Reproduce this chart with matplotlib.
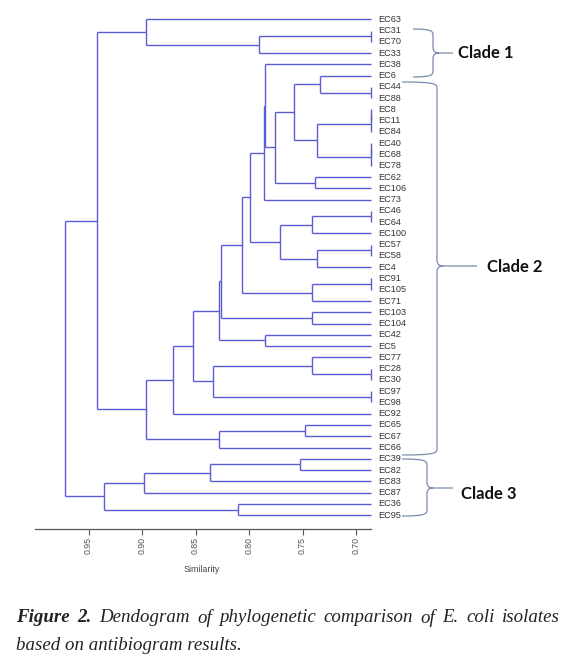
import numpy as np
import matplotlib.pyplot as plt
from matplotlib.path import Path
from matplotlib.patches import PathPatch

# leaf order, top to bottom
leaves = ["EC63", "EC31", "EC70", "EC33", "EC38", "EC6", "EC44", "EC88", "EC8",
          "EC11", "EC84", "EC40", "EC68", "EC78", "EC62", "EC106", "EC73", "EC46",
          "EC64", "EC100", "EC57", "EC58", "EC4", "EC91", "EC105", "EC71", "EC103",
          "EC104", "EC42", "EC5", "EC77", "EC28", "EC30", "EC97", "EC98", "EC92",
          "EC65", "EC67", "EC66", "EC39", "EC82", "EC83", "EC87", "EC36", "EC95"]

# merges (node m<i> is the i-th merge): left child, right child, similarity
merge_a = ["EC31", "m0", "EC63", "EC44", "EC6", "EC8", "m5", "EC40", "m7", "m6",
           "m4", "EC62", "m10", "EC38", "m13", "EC46", "m15", "EC57", "m17", "m16",
           "m14", "EC91", "m21", "m20", "EC103", "m23", "EC42", "m25", "EC28", "EC77",
           "EC97", "m29", "m27", "m32", "EC65", "m34", "m33", "m2", "EC39", "m38",
           "m39", "EC36", "m40", "m37"]
merge_b = ["EC70", "EC33", "m1", "EC88", "m3", "EC11", "EC84", "EC68", "EC78", "m8",
           "m9", "EC106", "m11", "m12", "EC73", "EC64", "EC100", "EC58", "EC4", "m18",
           "m19", "EC105", "EC71", "m22", "EC104", "m24", "EC5", "m26", "EC30", "m28",
           "EC98", "m30", "m31", "EC92", "EC67", "EC66", "m35", "m36", "EC82", "EC83",
           "EC87", "EC95", "m41", "m42"]
merge_h = [0.686, 0.791, 0.896, 0.686, 0.7335, 0.686, 0.686, 0.686, 0.686, 0.736,
           0.7575, 0.738, 0.776, 0.7855, 0.7864, 0.686, 0.7413, 0.686, 0.736, 0.7715,
           0.7995, 0.686, 0.7413, 0.8067, 0.7413, 0.8263, 0.7855, 0.8285, 0.686, 0.7413,
           0.686, 0.8341, 0.8519, 0.8706, 0.748, 0.8279, 0.8964, 0.9421, 0.7522, 0.8363,
           0.898, 0.8107, 0.9353, 0.9724]
leaf_level = 0.686

ticks = [0.95, 0.90, 0.85, 0.80, 0.75, 0.70]
clade_names = ["Clade 1", "Clade 2", "Clade 3"]

W, H = 574, 659
fig = plt.figure(figsize=(W / 100, H / 100), dpi=100)
ax = fig.add_axes([35 / W, 1 - 529 / H, 336 / W, 521 / H])

line_col = "#5b5bd4"
pos = {name: (i, leaf_level) for i, name in enumerate(leaves)}
for i, (a, b, h) in enumerate(zip(merge_a, merge_b, merge_h)):
    ya, ha = pos[a]
    yb, hb = pos[b]
    ax.plot([ha, h], [ya, ya], color=line_col, lw=1.0, clip_on=False, solid_capstyle="butt")
    ax.plot([hb, h], [yb, yb], color=line_col, lw=1.0, clip_on=False, solid_capstyle="butt")
    ax.plot([h, h], [ya, yb], color=line_col, lw=1.0, clip_on=False, solid_capstyle="butt")
    pos["m%d" % i] = ((ya + yb) / 2, h)

for i, name in enumerate(leaves):
    ax.annotate(name, (leaf_level, i), xytext=(5, 0), textcoords="offset points",
                va="center", ha="left", fontsize=6.6, color="#333333",
                family="Liberation Sans", annotation_clip=False)

ax.set_xlim(1.0, 0.686)
ax.set_ylim(45.23, -1.0)
ax.set_xticks(ticks)
ax.set_xticklabels(["%.2f" % t for t in ticks], rotation=90, family="Liberation Sans")
ax.tick_params(axis="x", direction="out", length=4, width=0.8, colors="#555555",
               labelsize=6.3, pad=2)
ax.set_yticks([])
for s in ["top", "right", "left"]:
    ax.spines[s].set_visible(False)
ax.spines["bottom"].set_color("#555555")
ax.spines["bottom"].set_linewidth(0.9)
ax.patch.set_visible(False)

# overlay in pixel coordinates for braces and caption
ov = fig.add_axes([0, 0, 1, 1])
ov.set_xlim(0, W)
ov.set_ylim(H, 0)
ov.axis("off")

ov.text(202, 569, "Similarity", ha="center", va="center", fontsize=6.4,
        color="#444444", family="Liberation Sans")


def brace(x0, xv, xtip, ytop, ybot, ymid, r=6):
    verts = [(x0, ytop), (xv - 2, ytop), (xv, ytop + 2), (xv, ytop + r),
             (xv, ymid - r),
             (xv, ymid - 1), (xv + 3, ymid), (xv + r, ymid),
             (xtip, ymid),
             (xv + r, ymid),
             (xv + 3, ymid), (xv, ymid + 1), (xv, ymid + r),
             (xv, ybot - r),
             (xv, ybot - 2), (xv - 2, ybot), (x0, ybot)]
    codes = [Path.MOVETO, Path.CURVE4, Path.CURVE4, Path.CURVE4,
             Path.LINETO,
             Path.CURVE4, Path.CURVE4, Path.CURVE4,
             Path.LINETO,
             Path.MOVETO,
             Path.CURVE4, Path.CURVE4, Path.CURVE4,
             Path.LINETO,
             Path.CURVE4, Path.CURVE4, Path.CURVE4]
    ov.add_patch(PathPatch(Path(verts, codes), fill=False, ec="#7b8bb0", lw=0.9))


brace(413, 433, 453, 29, 77, 53)
brace(402, 437, 477, 82, 455, 266)
brace(402, 427, 453, 459, 516, 488)
for name, x, y in zip(clade_names, [458, 487, 461], [53, 267, 494]):
    ov.text(x, y, name, ha="left", va="center", fontsize=12, fontweight="bold",
            family="Lato", color="#111111")

# caption, first line justified
fig.canvas.draw()
rend = fig.canvas.get_renderer()
words1 = [("Figure", "bold"), ("2.", "bold"), ("Dendogram", "normal"), ("of", "normal"),
          ("phylogenetic", "normal"), ("comparison", "normal"), ("of", "normal"),
          ("E.", "normal"), ("coli", "normal"), ("isolates", "normal")]
cap_kw = dict(fontsize=13.6, style="italic", family="Liberation Serif", color="#222222",
              va="center", ha="left")
arts = [ov.text(0, 618, w, fontweight=wt, **cap_kw) for w, wt in words1]
widths = [a.get_window_extent(rend).width for a in arts]
x_left, x_right = 16.5, 560
gap = (x_right - x_left - sum(widths)) / (len(arts) - 1)
x = x_left
for a, w in zip(arts, widths):
    a.set_x(x)
    x += w + gap
ov.text(x_left, 646, "based on antibiogram results.", **cap_kw)

fig.savefig("out.png", dpi=100)
